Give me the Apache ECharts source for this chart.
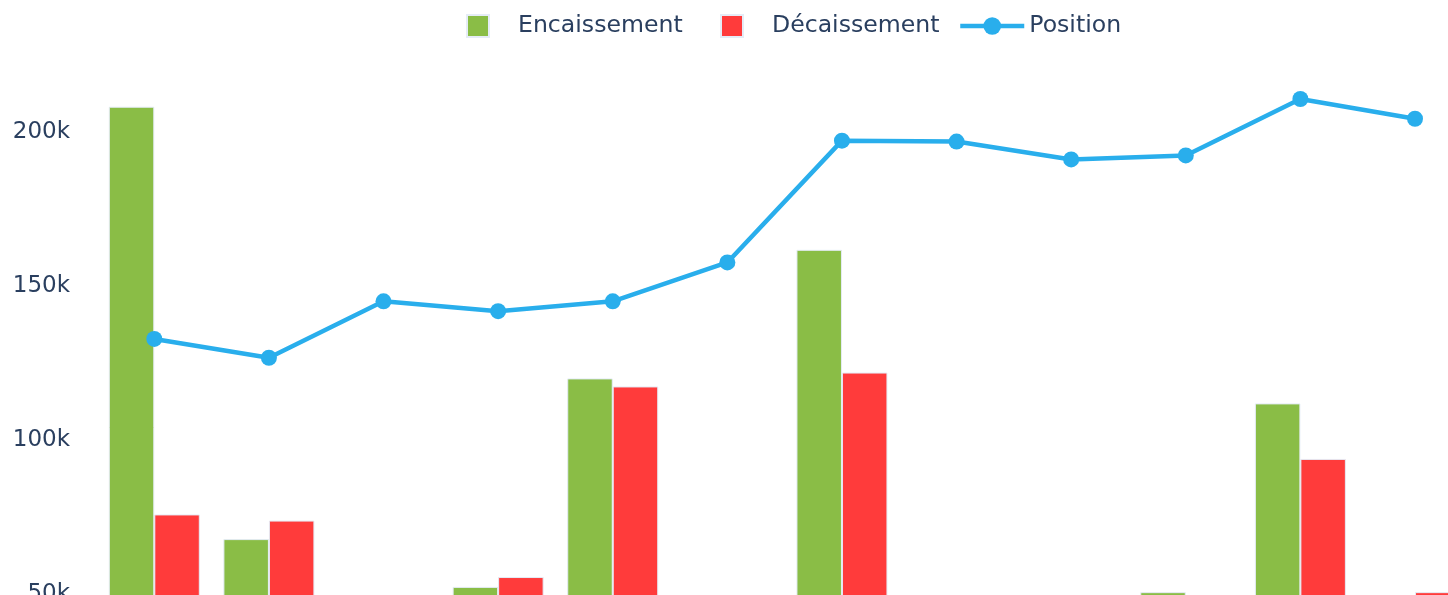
<!DOCTYPE html>
<html>
<head>
<meta charset="utf-8">
<script src="https://cdn.jsdelivr.net/npm/echarts@6/dist/echarts.min.js"></script>
<style>
  html, body { margin: 0; padding: 0; background: #fff; overflow: hidden; width: 1448px; height: 595px; position: relative; }
  /* la zone de tracé dépasse de la fenêtre (vue recadrée) */
  #chart { position: absolute; left: 0; top: -40px; width: 1473px; height: 800px; }
</style>
</head>
<body>
<div id="chart"></div>
<script>
  // mois (non visibles dans la vue)
  var categories = ['1', '2', '3', '4', '5', '6', '7', '8', '9', '10', '11', '12'];
  // valeurs (celles sous 50k ne sont pas visibles, estimées)
  var encaissement = [208100, 67900, 45000, 52400, 120000, 40000, 161700, 30000, 25000, 50700, 111900, 44300];
  var decaissement = [75900, 73900, 26700, 55600, 117400, 27400, 121900, 30300, 30800, 49400, 93900, 50700];
  var position = [132800, 126700, 145000, 141800, 145000, 157600, 197100, 196800, 191000, 192300, 210600, 204200];
  var yTicks = { min: 0, max: 250000, interval: 50000 };

  var chart = echarts.init(document.getElementById('chart'));
  var txt = '#2a3f5f';
  var font = 'DejaVu Sans, Verdana, sans-serif';
  var legendText = { color: txt, fontSize: 23.6, fontFamily: font };

  var option = {
    animation: false,
    legend: [
      {
        data: ['Encaissement'], left: 466, top: 54, padding: 0,
        icon: 'rect', itemWidth: 22, itemHeight: 22,
        textStyle: Object.assign({ padding: [0, 0, 0, 24] }, legendText)
      },
      {
        data: ['Décaissement'], left: 720, top: 54, padding: 0,
        icon: 'rect', itemWidth: 22, itemHeight: 22,
        textStyle: Object.assign({ padding: [0, 0, 0, 24] }, legendText)
      },
      {
        data: ['Position'], left: 958, top: 54, padding: 0,
        itemWidth: 64, itemHeight: 22,
        lineStyle: { width: 4.5 },
        textStyle: Object.assign({ padding: [0, 0, 0, 0] }, legendText)
      }
    ],
    grid: { left: 97, right: 0.7, top: 17.5, bottom: 5 },
    xAxis: {
      type: 'category',
      data: categories,
      axisLine: { show: false },
      axisTick: { show: false },
      axisLabel: { show: false }
    },
    yAxis: {
      type: 'value',
      min: yTicks.min,
      max: yTicks.max,
      interval: yTicks.interval,
      axisLine: { show: false },
      axisTick: { show: false },
      splitLine: { show: false },
      axisLabel: {
        color: txt, fontSize: 23, fontFamily: font, margin: 27,
        formatter: function (v) { return v / 1000 + 'k'; }
      }
    },
    series: [
      {
        name: 'Encaissement', type: 'bar', data: encaissement,
        barWidth: 45.5, barGap: '0%',
        itemStyle: { color: '#8abd46', borderColor: '#e5ecf6', borderWidth: 1 }
      },
      {
        name: 'Décaissement', type: 'bar', data: decaissement,
        barWidth: 45.5,
        itemStyle: { color: '#ff3b3b', borderColor: '#e5ecf6', borderWidth: 1 }
      },
      {
        name: 'Position', type: 'line', data: position,
        symbol: 'circle', symbolSize: 16,
        lineStyle: { color: '#29aeec', width: 4.5 },
        itemStyle: { color: '#29aeec' }
      }
    ]
  };
  chart.setOption(option);
</script>
</body>
</html>
